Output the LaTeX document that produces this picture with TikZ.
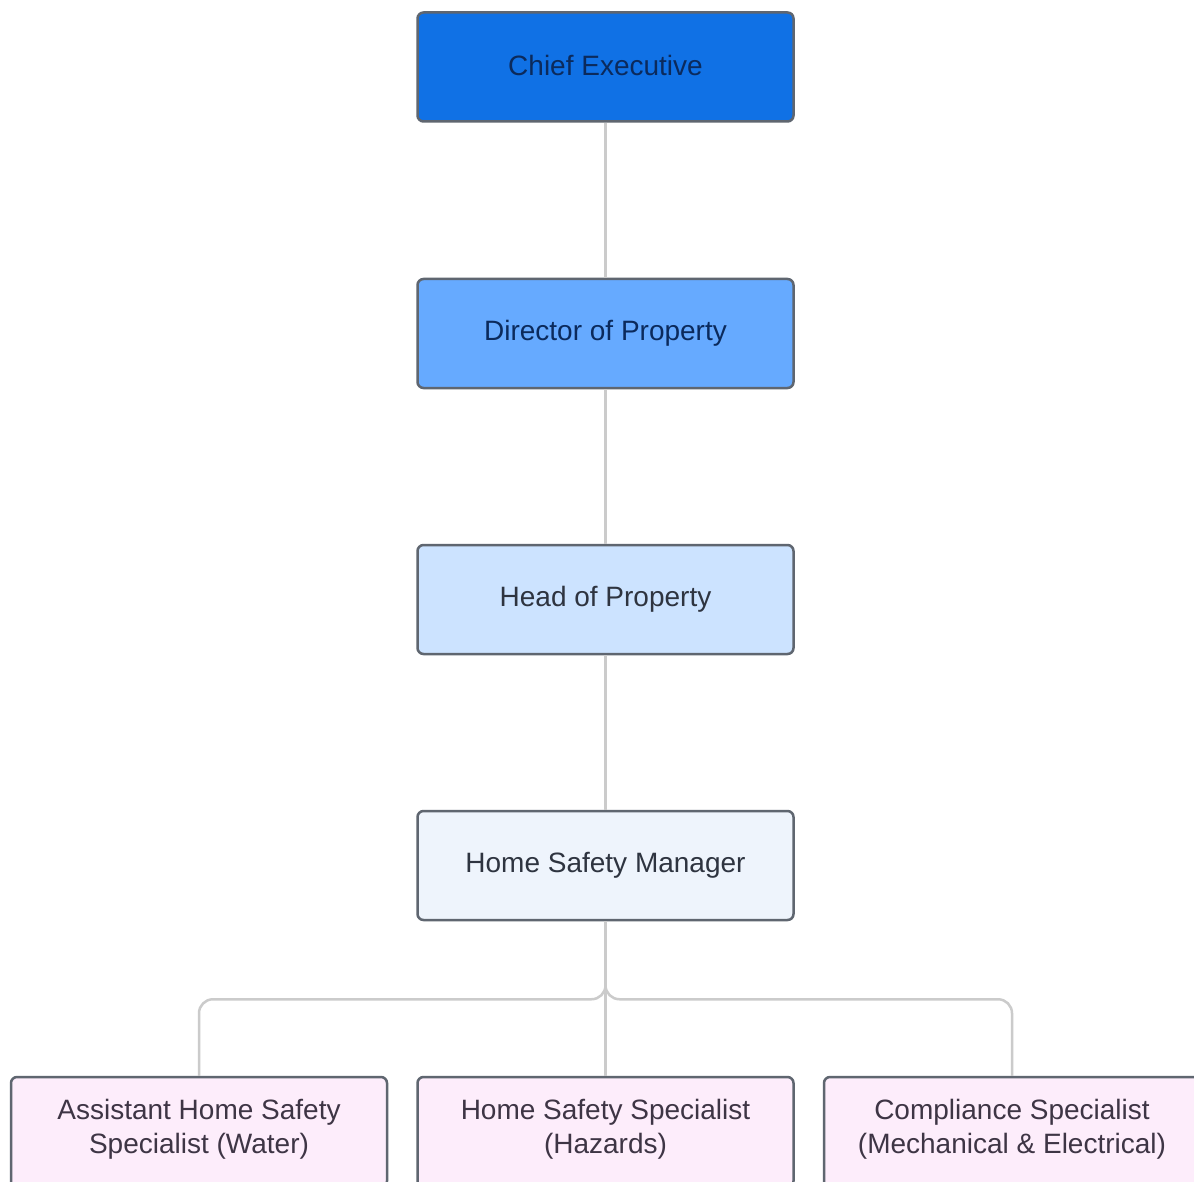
\documentclass[tikz,border=0pt]{standalone}
\usepackage{fontspec}
\setmainfont{Liberation Sans}
\definecolor{bordercol}{HTML}{5F6670}
\definecolor{conncol}{HTML}{CBCBCB}
\definecolor{ceblue}{HTML}{1071E5}
\definecolor{dpblue}{HTML}{66AAFF}
\definecolor{hpblue}{HTML}{CCE3FF}
\definecolor{hsmblue}{HTML}{EEF4FC}
\definecolor{pinkfill}{HTML}{FDEDFB}
\definecolor{navytext}{HTML}{0B2A5C}
\definecolor{darktext}{HTML}{2E3440}
\definecolor{plumtext}{HTML}{3E3545}
\begin{document}
\begin{tikzpicture}[x=1pt,y=-1pt,
  box/.style={draw=bordercol, line width=2.5pt, rounded corners=6pt,
    minimum width=376pt, minimum height=109pt, inner sep=0pt,
    align=center, font=\fontsize{28}{34}\selectfont},
  lbl/.style={align=center, text=plumtext, font=\fontsize{28}{34}\selectfont},
  conn/.style={draw=conncol, line width=2.5pt, rounded corners=14pt}]
\useasboundingbox[fill=white] (0,0) rectangle (1194,1182);
\node[box, fill=ceblue, text=navytext] (ce) at (605.5,67) {\raisebox{3pt}{Chief Executive}};
\node[box, fill=dpblue, text=navytext] (dp) at (605.5,333.5) {\raisebox{2pt}{Director of Property}};
\node[box, fill=hpblue, text=darktext] (hp) at (605.5,599.5) {\raisebox{2pt}{Head of Property}};
\node[box, fill=hsmblue, text=darktext] (hsm) at (605.5,865.5) {\raisebox{2pt}{Home Safety Manager}};
\node[box, fill=pinkfill, minimum height=110pt] (a1) at (199,1132) {};
\node[box, fill=pinkfill, minimum height=110pt] (a2) at (605.5,1132) {};
\node[box, fill=pinkfill, minimum height=110pt] (a3) at (1012,1132) {};
\node[lbl] (t1) at (199,1129.5) {Assistant Home Safety\\Specialist (Water)};
\node[lbl] (t2) at (605.5,1129.5) {Home Safety Specialist\\(Hazards)};
\node[lbl] (t3) at (1012,1129.5) {Compliance Specialist\\(Mechanical \& Electrical)};
\draw[conn] (ce.south) -- (dp.north);
\draw[conn] (dp.south) -- (hp.north);
\draw[conn] (hp.south) -- (hsm.north);
\draw[conn] (hsm.south) -- (hsm.south |- a1.north);
\draw[conn] (hsm.south) -- ++(0,78) -| (a1.north);
\draw[conn] (hsm.south) -- ++(0,78) -| (a3.north);
\end{tikzpicture}
\end{document}
